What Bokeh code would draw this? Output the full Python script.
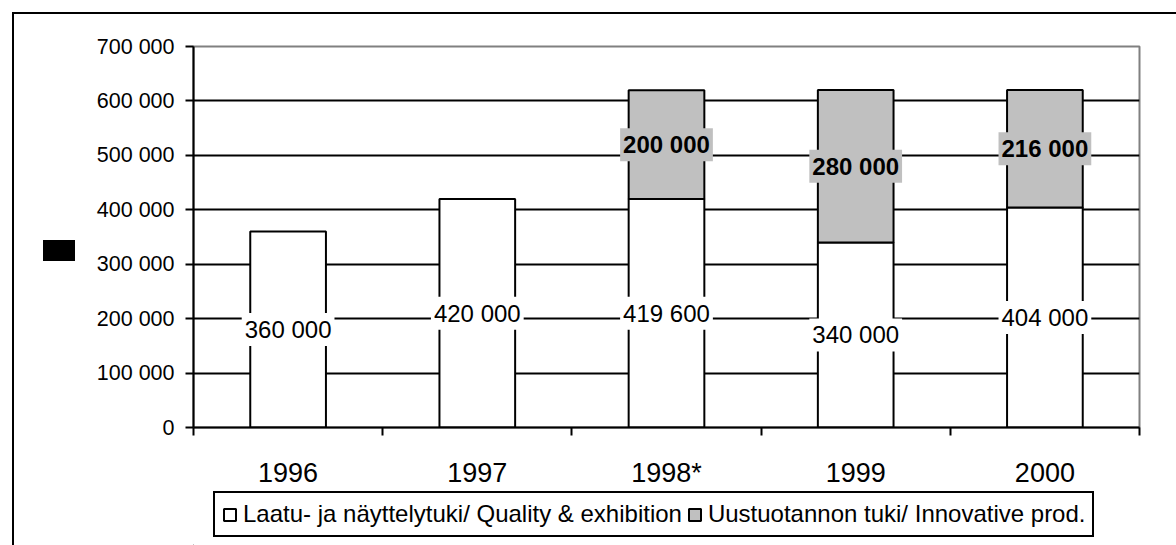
from bokeh.plotting import figure
from bokeh.layouts import column
from bokeh.models import (ColumnDataSource, FixedTicker, Range1d, Legend, LegendItem)
from bokeh.core.properties import value
from bokeh.embed import file_html
from bokeh.resources import INLINE

# ---- data ----
years = ["1996", "1997", "1998*", "1999", "2000"]
quality = [360000, 420000, 419600, 340000, 404000]
innovative = [0, 0, 200000, 280000, 216000]
y_ticks = [0, 100000, 200000, 300000, 400000, 500000, 600000, 700000]
y_tick_labels = ["0", "100 000", "200 000", "300 000", "400 000", "500 000", "600 000", "700 000"]
legend_labels = ["Laatu- ja näyttelytuki/ Quality & exhibition",
                 "Uustuotannon tuki/ Innovative prod."]

FONT = "Liberation Sans"
QCOL, ICOL = "white", "#c0c0c0"

def fmt(v):
    return f"{v:,}".replace(",", " ")

xpos = [i + 0.5 for i in range(len(years))]

src = ColumnDataSource(dict(
    x=xpos, q=quality,
    qlab=[fmt(v) for v in quality],
    qmid=[v / 2 for v in quality],
))
isrc = ColumnDataSource(dict(
    x=[x for x, n in zip(xpos, innovative) if n > 0],
    bottom=[q for q, n in zip(quality, innovative) if n > 0],
    top=[q + n for q, n in zip(quality, innovative) if n > 0],
    mid=[q + n / 2 for q, n in zip(quality, innovative) if n > 0],
    lab=[fmt(n) for n in innovative if n > 0],
))

p = figure(width=1176, height=490, output_backend="svg", toolbar_location=None,
           x_range=Range1d(0, len(years)), y_range=Range1d(0, 700000),
           min_border_left=193, min_border_right=37, min_border_top=46,
           min_border_bottom=63)
p.background_fill_color = "white"
p.border_fill_color = None
p.outline_line_color = "#808080"
p.outline_line_width = 2

# grid
p.xgrid.visible = False
p.ygrid.ticker = FixedTicker(ticks=y_ticks[1:-1])
p.ygrid.grid_line_color = "black"
p.ygrid.grid_line_width = 2

# y axis
ya = p.yaxis[0]
ya.ticker = FixedTicker(ticks=y_ticks)
ya.major_label_overrides = {t: l for t, l in zip(y_ticks, y_tick_labels)}
ya.major_label_text_font = FONT
ya.major_label_text_font_size = "21.5px"
ya.major_label_text_color = "black"
ya.major_tick_out = 8
ya.major_tick_in = 0
ya.major_tick_line_color = "black"
ya.major_tick_line_width = 2
ya.minor_tick_line_color = None
ya.axis_line_color = "black"
ya.axis_line_width = 2
ya.major_label_standoff = 11
ya.axis_label = None

# x axis
xa = p.xaxis[0]
xa.ticker = FixedTicker(ticks=xpos, minor_ticks=list(range(len(years) + 1)))
xa.major_label_overrides = {x: y for x, y in zip(xpos, years)}
xa.major_label_text_font = FONT
xa.major_label_text_font_size = "27px"
xa.major_label_text_color = "black"
xa.major_tick_line_color = None
xa.major_tick_out = 0
xa.major_tick_in = 0
xa.minor_tick_out = 8
xa.minor_tick_in = 0
xa.minor_tick_line_color = "black"
xa.minor_tick_line_width = 2
xa.axis_line_color = "black"
xa.axis_line_width = 2
xa.major_label_standoff = 22
xa.axis_label = None

# bars
p.vbar(x="x", top="q", bottom=0, width=0.4, source=src,
       fill_color=QCOL, line_color="black", line_width=2)
p.vbar(x="x", top="top", bottom="bottom", width=0.4, source=isrc,
       fill_color=ICOL, line_color="black", line_width=2)

# data labels
p.text(x="x", y="qmid", text="qlab", source=src, text_align="center",
       text_baseline="middle", text_font=value(FONT), text_font_size="24px",
       text_color="black", background_fill_color=QCOL, padding=3)
p.text(x="x", y="mid", text="lab", source=isrc, text_align="center",
       text_baseline="middle", text_font=value(FONT), text_font_size="24px",
       text_font_style="bold", text_color="black",
       background_fill_color=ICOL, padding=3)

# ---- legend strip below the chart (frame aligned with the chart's frame) ----
p2 = figure(width=1176, height=55, output_backend="svg", toolbar_location=None,
            x_axis_type=None, y_axis_type=None,
            x_range=Range1d(0, 1), y_range=Range1d(0, 1),
            min_border=0, min_border_left=0, min_border_right=0,
            min_border_top=0, min_border_bottom=0)
p2.background_fill_color = None
p2.border_fill_color = None
p2.outline_line_color = None
p2.grid.visible = False
# legend proxies (placed outside the visible range; only their legend swatches show)
g1 = p2.vbar(x=[-5], top=[0], bottom=[0], width=0.4, fill_color=QCOL,
             line_color="black", line_width=2)
g2 = p2.vbar(x=[-5], top=[0], bottom=[0], width=0.4, fill_color=ICOL,
             line_color="black", line_width=2)

legend = Legend(items=[LegendItem(label=legend_labels[0], renderers=[g1]),
                       LegendItem(label=legend_labels[1], renderers=[g2])],
                orientation="horizontal", location=(20, 8))
legend.label_text_font = FONT
legend.label_text_font_size = "24px"
legend.label_text_color = "black"
legend.glyph_width = 15
legend.glyph_height = 15
legend.label_standoff = 6
legend.spacing = 5
legend.padding = 7
legend.margin = 0
legend.border_line_color = "black"
legend.border_line_alpha = 1
legend.border_line_width = 2
legend.background_fill_color = "white"
legend.background_fill_alpha = 1
p2.add_layout(legend)

layout = column(p, p2, spacing=0)
# outer sheet frame (left/top edges) and the dark box left of the axis
layout.styles = {
    "background-color": "white",
    "background-image": "linear-gradient(black, black), linear-gradient(black, black), linear-gradient(black, black)",
    "background-position": "12px 12px, 12px 12px, 43px 240px",
    "background-size": "2px 600px, 1300px 2px, 32px 21px",
    "background-repeat": "no-repeat",
}

open("out.html", "w").write(file_html(layout, INLINE))
